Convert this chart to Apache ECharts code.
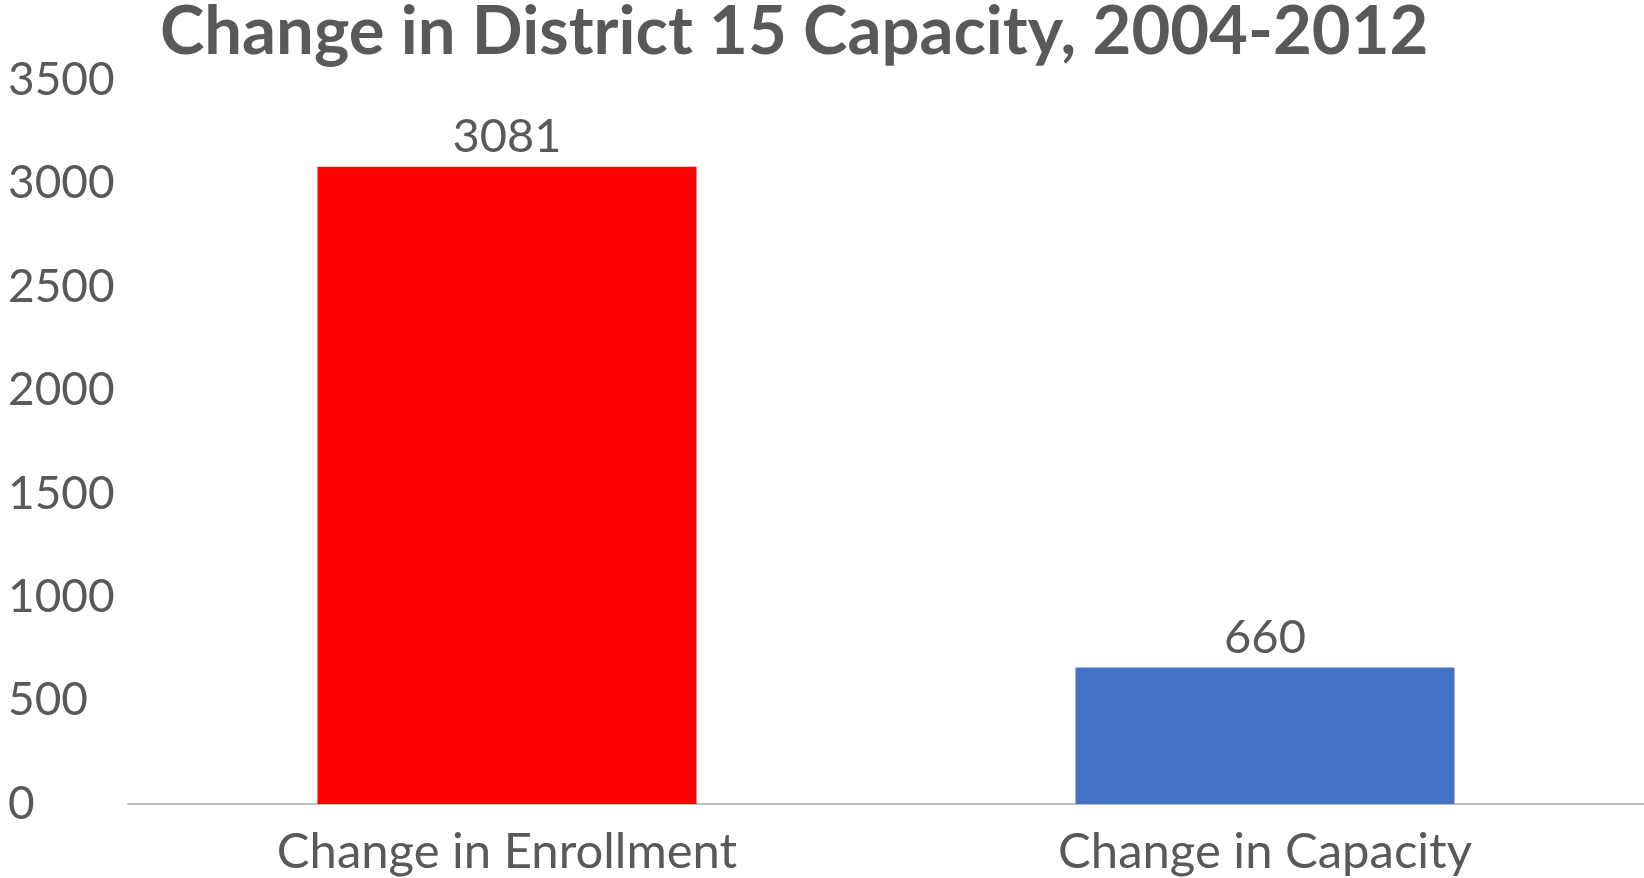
<!DOCTYPE html>
<html>
<head>
<meta charset="utf-8">
<style>
  html, body { margin: 0; padding: 0; background: #fff; }
  #main { width: 1644px; height: 878px; }
</style>
<script src="https://cdn.jsdelivr.net/npm/echarts@6/dist/echarts.min.js"></script>
</head>
<body>
<div id="main"></div>
<script>
// data
var categories = ['Change in Enrollment', 'Change in Capacity'];
var values = [3081, 660];
var barColors = ['#ff0000', '#4472c4'];

var FONT = 'Lato';
var GRAY = '#595959';

echarts.init(document.getElementById('main')).setOption({
	backgroundColor: '#ffffff',
	animation: false,
	title: {
		text: 'Change in District 15 Capacity, 2004-2012',
		left: 155,
		top: -6,
		textStyle: {
			fontFamily: FONT,
			fontWeight: 'bold',
			fontSize: 67,
			color: GRAY
		}
	},
	grid: {
		left: 128,
		right: 0,
		top: 80,
		bottom: 74
	},
	xAxis: {
		type: 'category',
		data: categories,
		axisTick: { show: false },
		axisLine: { lineStyle: { color: '#bfbfbf', width: 2 } },
		axisLabel: {
			fontFamily: FONT,
			fontSize: 49,
			color: GRAY,
			margin: 24
		}
	},
	yAxis: {
		type: 'value',
		min: 0,
		max: 3500,
		interval: 500,
		splitLine: { show: false },
		axisLine: { show: false },
		axisTick: { show: false },
		axisLabel: {
			fontFamily: FONT,
			fontSize: 46,
			color: GRAY,
			align: 'left',
			margin: 120,
			formatter: function (v) { return String(v); }
		}
	},
	series: [{
		type: 'bar',
		barWidth: '50%',
		data: values.map(function (v, i) {
			return { value: v, itemStyle: { color: barColors[i] } };
		}),
		label: {
			show: true,
			position: 'top',
			distance: 6,
			fontFamily: FONT,
			fontSize: 47,
			color: GRAY
		}
	}]
});
</script>
</body>
</html>
